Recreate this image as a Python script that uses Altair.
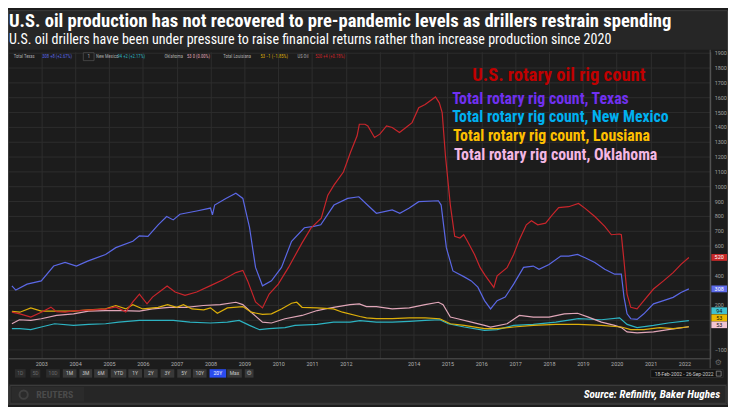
import altair as alt
import pandas as pd

# ---------------- data ----------------
tx_dates = ["2002-02-18","2002-04-01","2002-08-01","2003-01-01","2003-05-15","2003-09-15","2004-01-15","2004-05-15",
            "2004-11-25","2005-03-15","2005-09-15","2005-11-25","2006-02-25","2006-06-15","2006-09-15","2006-11-25",
            "2007-02-05","2007-08-05","2008-01-01","2008-01-22","2008-02-15","2008-06-15","2008-10-01","2008-12-15",
            "2009-02-25","2009-05-01","2009-07-15","2009-10-20","2010-02-05","2010-05-25","2010-10-10","2011-01-20",
            "2011-04-05","2011-08-25","2012-01-20","2012-05-20","2012-09-10","2012-11-25","2013-05-15","2013-08-05",
            "2013-11-15","2014-02-25","2014-09-25","2014-10-25","2014-12-20","2015-03-01","2015-07-01","2015-09-15",
            "2015-11-25","2016-02-05","2016-04-10","2016-06-20","2016-09-15","2016-12-15","2017-04-01","2017-07-15",
            "2017-09-15","2018-01-01","2018-05-08","2018-08-01","2018-11-05","2019-01-25","2019-05-10","2019-08-25",
            "2019-12-10","2020-02-20","2020-03-20","2020-04-22","2020-06-01","2020-08-08","2020-10-20","2021-02-01",
            "2021-05-20","2021-09-01","2021-11-25","2022-02-18"]
tx_values = [329,300,340,362,462,486,462,495,540,586,629,666,662,740,796,773,811,833,853,807,873,918,953,918,
             722,453,329,362,453,629,720,729,740,873,918,929,862,818,840,818,853,896,902,873,586,429,389,362,
             320,229,173,229,253,340,453,462,440,473,529,529,540,518,486,440,407,407,253,140,107,102,140,207,
             229,251,284,308]

us_dates = ["2002-02-18","2002-05-15","2002-09-10","2003-01-01","2003-04-15","2003-06-15","2003-09-15","2003-12-15",
            "2004-05-15","2004-11-25","2005-03-15","2005-07-01","2005-09-15","2005-11-25","2006-02-15","2006-04-15",
            "2006-07-15","2006-09-20","2006-12-15","2007-04-01","2007-08-05","2008-01-01","2008-05-15","2008-10-01",
            "2008-12-15","2009-02-05","2009-05-01","2009-07-15","2009-09-25","2010-01-01","2010-04-20","2010-09-15",
            "2010-12-20","2011-04-10","2011-06-20","2011-08-25","2011-12-05","2012-02-20","2012-05-01","2012-05-25",
            "2012-07-25","2012-08-25","2012-11-05","2013-01-01","2013-03-15","2013-05-15","2013-08-01","2013-10-10",
            "2013-12-15","2014-02-25","2014-05-05","2014-08-25","2014-10-05","2014-11-05","2014-12-10","2015-02-01",
            "2015-03-20","2015-05-15","2015-06-25","2015-08-05","2015-10-20","2015-12-20","2016-02-15","2016-05-15",
            "2016-06-20","2016-10-05","2016-12-15","2017-02-15","2017-05-01","2017-06-25","2017-09-01","2017-11-25",
            "2018-02-05","2018-04-15","2018-08-01","2018-11-15","2019-01-25","2019-05-10","2019-08-25","2019-11-05",
            "2020-01-30","2020-02-20","2020-03-20","2020-04-22","2020-06-01","2020-08-08","2020-10-20","2021-02-01",
            "2021-05-20","2021-09-01","2021-11-25","2022-02-18"]
us_values = [151,140,118,150,185,155,152,160,165,172,187,153,220,273,207,253,296,327,287,265,287,330,370,418,
             433,362,220,180,273,340,451,618,718,784,940,1007,1096,1229,1340,1418,1418,1407,1329,1351,1407,1396,
             1362,1396,1429,1529,1551,1602,1562,1496,1207,873,662,651,673,629,540,451,396,318,396,451,540,640,
             740,767,740,751,807,856,862,884,851,796,729,673,678,673,496,273,184,173,229,307,362,418,473,520]

ok_dates = ["2002-02-18","2002-05-10","2002-09-10","2003-01-01","2003-06-15","2003-12-15","2004-05-25","2004-11-25",
            "2005-05-25","2005-11-25","2006-04-15","2006-10-15","2007-04-15","2007-10-15","2008-04-15","2008-10-01",
            "2008-12-15","2009-03-15","2009-07-15","2009-10-20","2010-03-15","2010-09-15","2011-02-25","2011-08-20",
            "2012-02-15","2012-05-25","2012-08-10","2012-11-25","2013-05-15","2013-11-15","2014-05-05","2014-09-25",
            "2014-11-15","2015-02-01","2015-04-20","2015-09-15","2016-02-05","2016-04-10","2016-10-05","2017-02-15",
            "2017-07-15","2018-01-01","2018-06-15","2018-11-05","2019-03-01","2019-07-20","2019-12-10","2020-02-20",
            "2020-04-22","2020-08-08","2021-02-01","2021-07-10","2022-02-18"]
ok_values = [73,100,96,107,129,140,158,162,162,158,173,184,184,196,202,218,202,151,84,78,107,129,162,184,
             202,207,189,189,173,180,202,218,202,118,107,84,62,51,73,129,118,118,140,144,118,84,62,47,
             18,11,18,33,53]

la_dates = ["2002-02-18","2002-05-15","2002-09-10","2003-01-01","2003-06-15","2003-12-15","2004-05-25","2004-11-25",
            "2005-03-15","2005-07-01","2005-09-15","2006-01-01","2006-06-15","2006-09-25","2007-01-01","2007-03-15",
            "2007-06-15","2007-10-20","2008-01-01","2008-03-15","2008-07-01","2008-12-15","2009-03-15","2009-07-15",
            "2009-10-20","2010-02-05","2010-05-25","2010-07-20","2010-09-15","2011-02-25","2011-08-20","2011-11-25",
            "2012-06-01","2012-08-10","2012-11-25","2013-05-15","2013-11-15","2014-05-05","2014-10-10","2015-02-01",
            "2015-07-01","2016-02-05","2016-06-20","2016-12-15","2017-07-15","2018-03-15","2018-11-15","2019-07-20",
            "2020-02-20","2020-06-01","2020-10-20","2021-04-10","2021-09-01","2022-02-18"]
la_values = [156,151,180,158,158,158,167,173,196,173,202,173,184,202,184,202,173,167,180,144,180,189,151,136,
             140,173,211,218,184,180,173,151,122,113,107,107,113,113,107,73,62,40,40,51,62,69,69,62,
             51,33,33,47,40,53]

nm_dates = ["2002-02-18","2002-05-15","2002-09-10","2003-01-01","2003-05-25","2003-12-15","2004-05-25","2004-11-25",
            "2005-04-15","2005-11-25","2006-04-15","2006-11-25","2007-05-25","2008-01-01","2008-07-01","2008-11-05",
            "2009-02-25","2009-06-15","2009-09-25","2010-03-15","2010-07-01","2011-02-25","2011-08-20","2012-02-15",
            "2012-06-01","2012-11-25","2013-05-15","2013-11-15","2014-05-05","2014-10-10","2015-01-10","2015-07-01",
            "2016-02-05","2016-06-20","2016-12-15","2017-07-15","2018-03-15","2018-11-15","2019-07-20","2020-02-01",
            "2020-04-22","2020-08-08","2021-02-01","2021-07-10","2022-02-18"]
nm_values = [40,40,33,51,73,62,69,73,84,96,96,96,84,78,84,96,62,33,40,47,62,69,84,84,
             94,84,84,89,96,100,73,51,29,33,62,69,84,107,100,113,69,47,62,78,94]

series_names = ["Total Texas", "New Mexico", "Oklahoma", "Total Louisiana", "US Oil"]
series_colors = ["#5b68e6", "#2db3c2", "#e0a6b8", "#dcae0a", "#c9252b"]
last_values = [308, 94, 53, 53, 520]
last_changes = ["+8 (+2.67%)", "+2 (+2.17%)", "0 (0.00%)", "\u22121 (\u22121.85%)", "+4 (+0.78%)"]

axis_years = list(range(2003, 2023))
y_ticks = list(range(-100, 2000, 100))
buttons = ["1D", "5D", "10D", "1M", "3M", "6M", "YTD", "1Y", "2Y", "3Y", "5Y", "10Y", "20Y", "Max"]

title_text = "U.S. oil production has not recovered to pre-pandemic levels as drillers restrain spending"
subtitle_text = ("U.S. oil drillers have been under pressure to raise financial returns rather than "
                 "increase production since 2020")
annotations = ["U.S. rotary oil rig count", "Total rotary rig count, Texas",
               "Total rotary rig count, New Mexico", "Total rotary rig count, Lousiana",
               "Total rotary rig count, Oklahoma"]
annotation_colors = ["#c00000", "#7030f0", "#00b0f0", "#ffc000", "#f4b8e4"]
source_text = "Source: Refinitiv, Baker Hughes"

# ---------------- helpers ----------------
FONT = "Liberation Sans Narrow, Roboto Condensed, Arial Narrow, Roboto, sans-serif"
SMALL = "Roboto, Liberation Sans, sans-serif"
one = pd.DataFrame({"k": [0]})

W, H = 710, 310


def RX(rx):
    return rx * 728.0 / 736.0


def RY(ry):
    if ry <= 390:
        return ry - 50
    return 340 + (ry - 390) * 0.68


def rect(x0, x1, y0, y1, fill, stroke=None, sw=1, opacity=1):
    kw = dict(fill=fill, fillOpacity=opacity)
    if stroke:
        kw.update(stroke=stroke, strokeWidth=sw)
    return alt.Chart(one).mark_rect(**kw).encode(
        x=alt.value(x0), x2=alt.value(x1), y=alt.value(y0), y2=alt.value(y1))


def text(x, y, s, size, color, weight="normal", align="left", font=FONT, style="normal"):
    return alt.Chart(one).mark_text(
        text=s, fontSize=size, color=color, fontWeight=weight, align=align, font=font,
        fontStyle=style, baseline="middle").encode(x=alt.value(x), y=alt.value(y))


# labels hidden behind the value tags in the reference are left blank
yaxis = alt.Axis(orient="right", values=y_ticks, grid=True, gridColor="#2e2e2e",
                 gridWidth=1, ticks=False, domainColor="#555555", labelColor="#a0a0a0",
                 labelFontSize=5.5, labelFont=SMALL, labelPadding=4, labelFlush=False, title=None,
                 labelExpr="(datum.value == 500 || datum.value == 300 || datum.value == 100 || "
                           "datum.value == 0) ? '' : format(datum.value, 'd')")

# ---------------- main data ----------------
frames = []
for name, d, v in [("New Mexico", nm_dates, nm_values), ("Oklahoma", ok_dates, ok_values),
                   ("Total Louisiana", la_dates, la_values), ("Total Texas", tx_dates, tx_values),
                   ("US Oil", us_dates, us_values)]:
    frames.append(pd.DataFrame({"date": d, "value": v, "series": name}))
df = pd.concat(frames, ignore_index=True)
df["ord"] = df["series"].map({"New Mexico": 0, "Oklahoma": 1, "Total Louisiana": 2,
                              "Total Texas": 3, "US Oil": 4})

xscale = alt.Scale(domain=[alt.DateTime(year=2002, month=1, date=7),
                           alt.DateTime(year=2022, month=10, date=6)], nice=False)
yscale = alt.Scale(domain=[-160, 1906.7], nice=False, zero=False)

layers = []

# header and footer panels (outside the view, not covering axes)
layers.append(rect(0, 728, -42, -2, "#262626"))
layers.append(rect(0, 728, 336, 357, "#262626"))
layers.append(rect(2, 726, 337.5, 355.5, "#262626", stroke="#3c3c3c"))
layers.append(rect(4, 77, 339, 354, "#2b2b2b"))
# outer frame
layers.append(rect(0.5, 727.5, -41.5, 356.5, "#000000", stroke="#3c3c3c", opacity=0))

# lines
lines = alt.Chart(df).mark_line(strokeWidth=1.2).encode(
    x=alt.X("date:T", scale=xscale, title=None,
            axis=alt.Axis(values=[alt.DateTime(year=y, month=1, date=1) for y in axis_years],
                          labelExpr="year(datum.value) == 2013 ? '' : timeFormat(datum.value, '%Y')",
                          grid=True, gridColor="#2e2e2e", gridWidth=1, ticks=False,
                          domainColor="#555555", labelColor="#b0b0b0", labelFontSize=5.5,
                          labelFont=SMALL, labelPadding=3, labelFlush=False)),
    y=alt.Y("value:Q", scale=yscale, title=None, axis=yaxis),
    color=alt.Color("series:N", scale=alt.Scale(domain=series_names, range=series_colors), legend=None),
    detail="series:N",
    order=alt.Order("ord:Q"),
)
layers.append(lines)

# right axis line extension
layers.append(alt.Chart(one).mark_rule(color="#555555").encode(
    x=alt.value(W), y=alt.value(-2), y2=alt.value(320)))

# value tags on the right axis
tag_text_colors = ["#ffffff", "#111111", "#111111", "#111111", "#ffffff"]
tag_offsets = [0, -10, -2, -9, 0]
tag_fills = ["#5d6bea", "#3fc0cf", "#f2c4d2", "#e8b800", "#c62828"]
for i, name in enumerate(series_names):
    tdf = pd.DataFrame({"value": [last_values[i]], "label": [str(last_values[i])]})
    off_units = -tag_offsets[i] / 0.15
    base = alt.Chart(tdf).transform_calculate(
        top=f"datum.value + 23 + {off_units}", bot=f"datum.value - 23 + {off_units}",
        mid=f"datum.value + {off_units}")
    layers.append(base.mark_rect(fill=tag_fills[i]).encode(
        x=alt.value(RX(719)), x2=alt.value(RX(735)),
        y=alt.Y("top:Q", scale=yscale, title=None, axis=yaxis), y2="bot:Q"))
    layers.append(base.mark_text(fontSize=5.5, font=SMALL, color=tag_text_colors[i],
                                 align="center", baseline="middle").encode(
        x=alt.value(RX(727)), y=alt.Y("mid:Q", scale=yscale, title=None, axis=yaxis), text="label:N"))

# top legend row
name_x = [8, 92, 162, 222, 298]
val_x = [36, 113, 184, 259, 315]
for i, name in enumerate(series_names):
    layers.append(text(RX(name_x[i]) - 2, RY(55), name, 4.7, "#a8a8a8"))
    layers.append(text(RX(val_x[i]) - 1, RY(55), f"{last_values[i]} {last_changes[i]}", 4.7,
                       series_colors[i]))
layers.append(rect(RX(78) - 1, RX(89) - 1, RY(51), RY(59), "#1c1c1c", stroke="#555555", sw=0.7))
layers.append(text(RX(83.5) - 1, RY(55), "1", 4.7, "#a8a8a8", align="center", font=SMALL))

# header
layers.append(text(1, -31, title_text, 18.8, "#ffffff", weight="bold"))
layers.append(text(1, -11.5, subtitle_text, 14.2, "#ffffff"))

# in-chart annotations
ann_x = [563, 454, 454, 455, 456]
ann_y = [74, 98, 116, 135, 154]
for i, s in enumerate(annotations):
    if i == 0:
        layers.append(text(RX(ann_x[i]), RY(ann_y[i]), s, 18.8, annotation_colors[i],
                           weight="bold", align="center"))
    else:
        layers.append(text(RX(ann_x[i]), RY(ann_y[i]), s, 16, annotation_colors[i], weight="bold"))

# toolbar
btn_pos = [(7, 18), (23, 33), (39, 53), (56, 70), (73, 86), (88, 102), (105, 121), (123, 137),
           (139, 153), (156, 170), (173, 187), (189, 203), (206, 223), (224, 239)]
for i, b in enumerate(buttons):
    x0, x1 = btn_pos[i]
    active = b == "20Y"
    dim = i < 3
    fill = "#2a4cf0" if active else ("#2c2c2c" if dim else "#383838")
    col = "#ffffff" if active else ("#6a6a6a" if dim else "#c8c8c8")
    layers.append(rect(RX(x0), RX(x1), RY(371), RY(379.5), fill))
    layers.append(text(RX((x0 + x1) / 2), RY(375.3), b, 5, col, align="center", font=SMALL))
layers.append(rect(RX(242), RX(251), RY(371), RY(379.5), "#383838"))
layers.append(text(RX(246.5), RY(375.3), "\u2699", 6.5, "#9a9a9a", align="center", font="DejaVu Sans"))

# date range box
layers.append(rect(RX(657), RX(731), RY(371.5), RY(379.5), "#121212", stroke="#3a3a3a", sw=0.7))
layers.append(text(RX(661), RY(375.5), "18-Feb-2002   -   26-Sep-2022", 5, "#c8c8c8", font=SMALL))
layers.append(rect(RX(724), RX(729), RY(373), RY(378), "#1c1c1c", stroke="#9a9a9a", sw=0.7))
layers.append(text(RX(726), RY(364.5), "\u2699", 8, "#6a6a6a", align="center", font="DejaVu Sans"))

# footer
layers.append(alt.Chart(one).mark_point(shape="circle", size=70, stroke="#4a4a4a", strokeWidth=2,
                                        filled=False).encode(x=alt.value(RX(16)), y=alt.value(RY(400))))
layers.append(text(RX(29), RY(400), "REUTERS", 10, "#4a4a4a", weight="bold"))
layers.append(text(720, RY(400), source_text, 11.3, "#ffffff", weight="bold", align="right",
                   style="italic"))

chart = alt.layer(*layers).properties(
    width=W, height=H,
    padding={"left": 0, "top": 42, "right": 18, "bottom": 47},
    autosize=alt.AutoSizeParams(type="none"),
    background="#1c1c1c",
).configure_view(fill="#1c1c1c", strokeWidth=0)

chart.save("out.html", embed_options={"renderer": "svg", "actions": False})
